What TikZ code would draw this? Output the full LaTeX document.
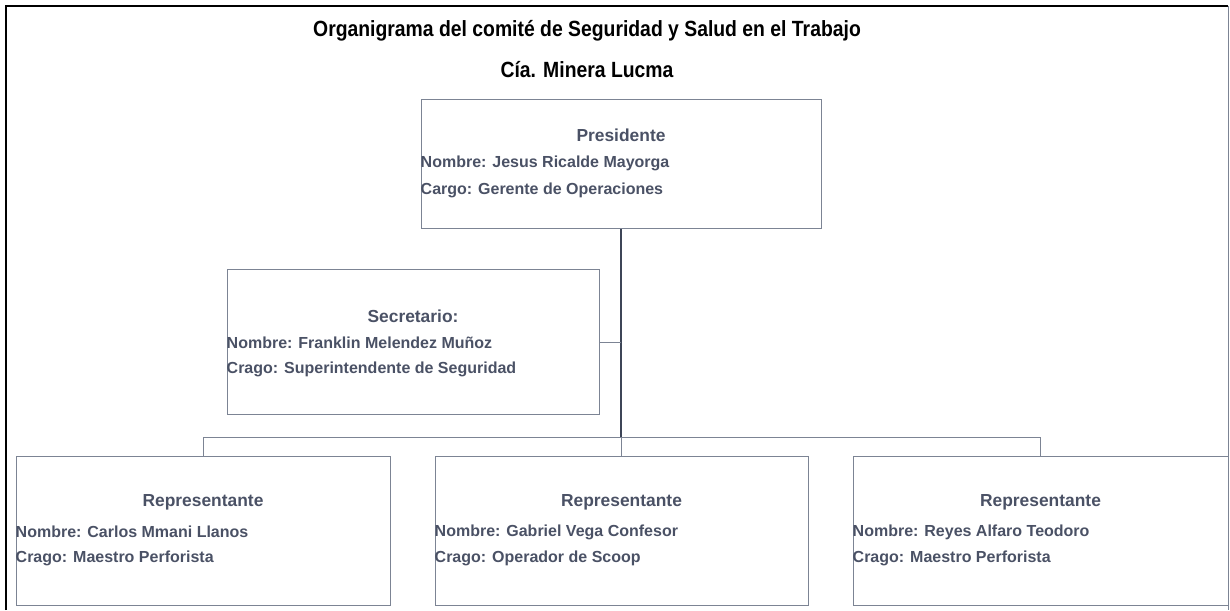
\documentclass[tikz,border=0pt]{standalone}
\usepackage{fontspec}
\setmainfont{Liberation Sans}[BoldFont={Liberation Sans Bold}]
\newfontfamily\boldsans{Liberation Sans Bold}
\newfontfamily\narrowsans[FakeStretch=0.88]{Liberation Sans Bold}
\usetikzlibrary{positioning}
\definecolor{boxline}{HTML}{7C8494}
\definecolor{boxtext}{HTML}{4A5165}
\definecolor{trunk}{HTML}{3D4557}
\tikzset{
  card/.style={draw=boxline, line width=1pt, minimum width=#1, minimum height=146pt, inner sep=0pt},
  head/.style={text=boxtext, font=\boldsans\fontsize{17.4}{20}\selectfont, inner sep=0pt},
  info/.style={text=boxtext, font=\boldsans\fontsize{16}{18}\selectfont, inner sep=0pt, anchor=west},
  link/.style={draw=boxline, line width=0.8pt},
  title/.style={font=\narrowsans\fontsize{22}{25}\selectfont, inner sep=0pt}
}
\begin{document}
\begin{tikzpicture}[x=1pt,y=1pt]
    \useasboundingbox (0,0) rectangle (1230,610);
    %% Frame
    \draw[line width=1.6pt] (6,0) -- (6,604) -- (1228,604);
    \draw[boxline, line width=1pt] (1228,604) -- (1228,0);
    %% Title
    \node[title] (t1) at (587,579) {Organigrama del comité de Seguridad y Salud en el Trabajo};
    \node[title] (t2) at (587,540) {Cía. Minera Lucma};
    %% Presidente
    \node[card=400pt, minimum height=129pt] (pres) at (621,445.5) {};
    \node[head] (presH) at ([yshift=29pt]pres.center) {Presidente};
    \node[info] (presN) at ([yshift=1pt]pres.west) {Nombre: Jesus Ricalde Mayorga};
    \node[info] (presC) at ([yshift=-26pt]pres.west) {Cargo: Gerente de Operaciones};
    %% Secretario
    \node[card=372pt, minimum height=145pt] (sec) at (413,267.5) {};
    \node[head] (secH) at ([yshift=26pt]sec.center) {Secretario:};
    \node[info] (secN) at ([yshift=0pt]sec.west) {Nombre: Franklin Melendez Muñoz};
    \node[info] (secC) at ([yshift=-27pt]sec.west) {Crago: Superintendente de Seguridad};
    %% Representantes
    \node[card=374pt, minimum height=148pt] (rep1) at (203,79) {};
    \node[card=373pt, minimum height=148pt] (rep2) at (621.5,79) {};
    \node[card=375pt, minimum height=148pt] (rep3) at (1040.5,79) {};
    \foreach \r/\n/\c in {rep1/Carlos Mmani Llanos/Maestro  Perforista,
                          rep2/Gabriel Vega Confesor/Operador de Scoop,
                          rep3/Reyes Alfaro Teodoro/Maestro  Perforista}{
      \node[head] (\r H) at ([yshift=29pt]\r.center) {Representante};
      \node[info] (\r N) at ([yshift=-1pt]\r.west) {Nombre: \n};
      \node[info] (\r C) at ([yshift=-27pt]\r.west) {Crago: \c};
    }
    %% Connectors
    \coordinate (bus) at (621.5,173);
    \draw[trunk, line width=2.2pt] (pres.south) -- (pres.south |- bus);
    \draw[link] (sec.east) -- (sec.east -| pres.south);
    \draw[link] (rep1.north) -- (rep1.north |- bus) -- (rep3.north |- bus) -- (rep3.north);
    \draw[link] (rep2.north) -- (rep2.north |- bus);
\end{tikzpicture}
\end{document}
